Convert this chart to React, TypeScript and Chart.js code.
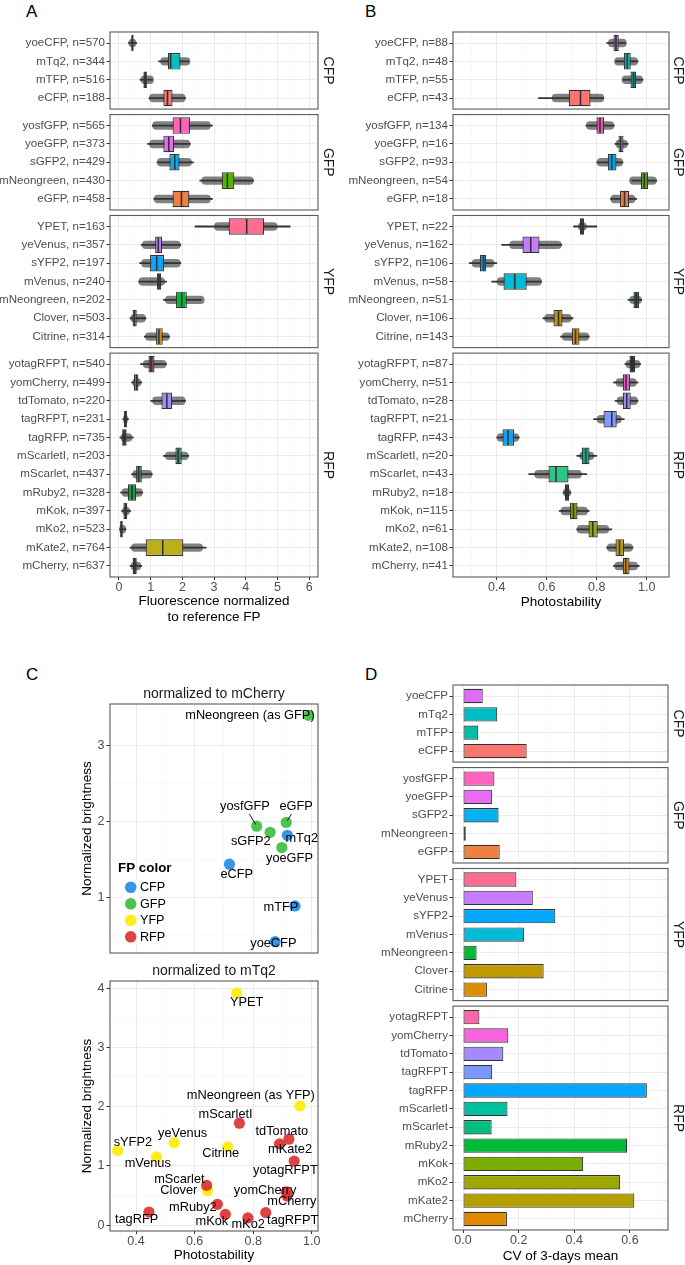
import React, { useEffect, useRef } from 'react';
import { Chart, registerables } from 'chart.js';

Chart.register(...registerables);

const FONT = '"Liberation Sans", Arial, Helvetica, sans-serif';
Chart.defaults.font.family = FONT;

// ---------------- shared facet structure ----------------
const FACETS = ['CFP', 'GFP', 'YFP', 'RFP'];
const FACET_SIZES = [4, 5, 7, 12];

// ---------------- Panel A: fluorescence normalized to reference FP ----------------
const aLabels = [
  'yoeCFP, n=570', 'mTq2, n=344', 'mTFP, n=516', 'eCFP, n=188',
  'yosfGFP, n=565', 'yoeGFP, n=373', 'sGFP2, n=429', 'mNeongreen, n=430', 'eGFP, n=458',
  'YPET, n=163', 'yeVenus, n=357', 'sYFP2, n=197', 'mVenus, n=240', 'mNeongreen, n=202', 'Clover, n=503', 'Citrine, n=314',
  'yotagRFPT, n=540', 'yomCherry, n=499', 'tdTomato, n=220', 'tagRFPT, n=231', 'tagRFP, n=735', 'mScarletI, n=203',
  'mScarlet, n=437', 'mRuby2, n=328', 'mKok, n=397', 'mKo2, n=523', 'mKate2, n=764', 'mCherry, n=637',
];
const aQ1 = [0.39, 1.54, 0.77, 1.40, 1.69, 1.40, 1.59, 3.24, 1.69, 3.46, 1.14, 0.98, 1.20, 1.80, 0.43, 1.17,
  0.93, 0.47, 1.34, 0.16, 0.10, 1.78, 0.54, 0.28, 0.14, 0.04, 0.84, 0.43];
const aMed = [0.42, 1.63, 0.83, 1.53, 1.94, 1.57, 1.76, 3.42, 1.97, 4.03, 1.24, 1.19, 1.26, 1.98, 0.49, 1.26,
  1.01, 0.55, 1.51, 0.20, 0.17, 1.87, 0.62, 0.41, 0.20, 0.07, 1.38, 0.49];
const aQ3 = [0.46, 1.94, 0.88, 1.69, 2.24, 1.74, 1.91, 3.64, 2.22, 4.58, 1.36, 1.42, 1.33, 2.14, 0.56, 1.38,
  1.12, 0.61, 1.68, 0.25, 0.24, 1.98, 0.72, 0.54, 0.26, 0.12, 2.03, 0.56];
const aWhiskLo = [0.30, 1.25, 0.66, 0.95, 1.05, 0.90, 1.20, 2.55, 1.10, 2.40, 0.70, 0.65, 0.62, 1.40, 0.35, 0.80,
  0.68, 0.40, 1.00, 0.12, 0.03, 1.40, 0.40, 0.05, 0.08, 0.00, 0.35, 0.35];
const aWhiskHi = [0.56, 2.20, 1.05, 2.10, 2.95, 2.25, 2.35, 4.25, 2.95, 5.40, 1.95, 1.95, 1.50, 2.60, 0.85, 1.60,
  1.50, 0.72, 2.10, 0.30, 0.45, 2.20, 1.05, 0.75, 0.37, 0.22, 2.75, 0.72];
const aCloudLo = [0.30, 1.30, 0.68, 0.95, 1.05, 0.95, 1.20, 2.60, 1.10, 3.00, 0.72, 0.70, 0.62, 1.45, 0.36, 0.82,
  0.75, 0.42, 1.05, 0.13, 0.05, 1.45, 0.42, 0.08, 0.10, 0.01, 0.38, 0.37];
const aCloudHi = [0.55, 2.25, 1.10, 2.10, 2.90, 2.25, 2.30, 4.25, 2.90, 5.00, 1.95, 1.95, 1.45, 2.70, 0.85, 1.60,
  1.50, 0.70, 2.10, 0.28, 0.42, 2.20, 1.05, 0.75, 0.35, 0.22, 2.65, 0.70];
const aColors = ['#1C1C1C', '#00BFC4', '#1C1C1C', '#F8766D', '#FF62BC', '#E76BF3', '#00B0F6', '#53B400', '#EE8043',
  '#FF6C91', '#C77CFF', '#00A9FF', '#1D6D78', '#00BA38', '#C09A00', '#DB8E00',
  '#8E3D63', '#F962DD', '#A58AFF', '#1C1C1C', '#1C1C1C', '#16A581', '#16955F', '#10A040', '#7CAE00', '#1C1C1C', '#BBAF1E', '#1C1C1C'];

// ---------------- Panel B: photostability ----------------
const bLabels = [
  'yoeCFP, n=88', 'mTq2, n=48', 'mTFP, n=55', 'eCFP, n=43',
  'yosfGFP, n=134', 'yoeGFP, n=16', 'sGFP2, n=93', 'mNeongreen, n=54', 'eGFP, n=18',
  'YPET, n=22', 'yeVenus, n=162', 'sYFP2, n=106', 'mVenus, n=58', 'mNeongreen, n=51', 'Clover, n=106', 'Citrine, n=143',
  'yotagRFPT, n=87', 'yomCherry, n=51', 'tdTomato, n=28', 'tagRFPT, n=21', 'tagRFP, n=43', 'mScarletI, n=20',
  'mScarlet, n=43', 'mRuby2, n=18', 'mKok, n=115', 'mKo2, n=61', 'mKate2, n=108', 'mCherry, n=41',
];
const bQ1 = [0.867, 0.908, 0.935, 0.688, 0.799, 0.887, 0.844, 0.977, 0.893, 0.733, 0.503, 0.333, 0.427, 0.947, 0.627, 0.700,
  0.931, 0.904, 0.904, 0.827, 0.423, 0.740, 0.607, 0.673, 0.693, 0.767, 0.875, 0.904];
const bMed = [0.877, 0.922, 0.947, 0.735, 0.813, 0.896, 0.860, 0.990, 0.911, 0.741, 0.536, 0.347, 0.472, 0.957, 0.647, 0.715,
  0.941, 0.917, 0.920, 0.860, 0.445, 0.756, 0.637, 0.681, 0.707, 0.784, 0.891, 0.916];
const bQ3 = [0.888, 0.936, 0.957, 0.775, 0.829, 0.907, 0.879, 1.005, 0.929, 0.749, 0.571, 0.357, 0.520, 0.969, 0.663, 0.731,
  0.953, 0.933, 0.936, 0.880, 0.469, 0.771, 0.687, 0.689, 0.723, 0.804, 0.909, 0.931];
const bWhiskLo = [0.840, 0.875, 0.905, 0.567, 0.757, 0.873, 0.800, 0.940, 0.855, 0.707, 0.420, 0.290, 0.380, 0.925, 0.585, 0.655,
  0.913, 0.867, 0.873, 0.787, 0.400, 0.720, 0.528, 0.665, 0.650, 0.720, 0.840, 0.867];
const bWhiskHi = [0.915, 0.965, 0.985, 0.827, 0.870, 0.925, 0.905, 1.040, 0.960, 0.800, 0.660, 0.400, 0.580, 0.980, 0.705, 0.770,
  0.975, 0.965, 0.965, 0.910, 0.490, 0.800, 0.760, 0.697, 0.770, 0.860, 0.945, 0.970];
const bCloudLo = [0.845, 0.870, 0.900, 0.620, 0.757, 0.875, 0.800, 0.930, 0.855, 0.725, 0.450, 0.300, 0.400, 0.930, 0.590, 0.660,
  0.915, 0.875, 0.880, 0.800, 0.400, 0.730, 0.550, 0.665, 0.655, 0.720, 0.840, 0.870];
const bCloudHi = [0.920, 0.965, 0.985, 0.830, 0.870, 0.925, 0.905, 1.040, 0.955, 0.760, 0.660, 0.390, 0.580, 0.980, 0.700, 0.770,
  0.975, 0.960, 0.965, 0.900, 0.490, 0.790, 0.740, 0.697, 0.765, 0.850, 0.945, 0.965];
const bColors = ['#B163E6', '#00B6BC', '#00A79A', '#F8766D', '#F452B6', '#E76BF3', '#00A8E8', '#4BA800', '#EE8043',
  '#8B3348', '#C77CFF', '#0A90D8', '#00BCD8', '#1C5A33', '#BE9800', '#D48A00',
  '#1C1C1C', '#F257D6', '#A088F8', '#7E9BFF', '#00A9FF', '#00B395', '#2FC48A', '#2A4F35', '#78A800', '#9AA800', '#B7A000', '#DE8C00'];

// ---------------- Panel D: CV of 3-days mean ----------------
const dLabels = ['yoeCFP', 'mTq2', 'mTFP', 'eCFP', 'yosfGFP', 'yoeGFP', 'sGFP2', 'mNeongreen', 'eGFP',
  'YPET', 'yeVenus', 'sYFP2', 'mVenus', 'mNeongreen', 'Clover', 'Citrine',
  'yotagRFPT', 'yomCherry', 'tdTomato', 'tagRFPT', 'tagRFP', 'mScarletI', 'mScarlet', 'mRuby2', 'mKok', 'mKo2', 'mKate2', 'mCherry'];
const dCV = [0.071, 0.123, 0.055, 0.229, 0.113, 0.104, 0.128, 0.010, 0.132,
  0.192, 0.251, 0.332, 0.220, 0.049, 0.290, 0.086,
  0.059, 0.163, 0.145, 0.105, 0.661, 0.160, 0.103, 0.590, 0.432, 0.565, 0.616, 0.158];
const dColors = ['#DC6FF6', '#00BCC4', '#00BFA7', '#F8766D', '#FF62BC', '#E96BF2', '#00B2EF', '#53B400', '#EE8043',
  '#FF6C91', '#C77CFF', '#00A9FF', '#00BCD8', '#00BA38', '#C09A00', '#DB8E00',
  '#FF65AC', '#F962DD', '#A58AFF', '#7997FF', '#00A9FF', '#00C19F', '#00BF7D', '#00BA38', '#7CAE00', '#9CA700', '#B3A000', '#E18A00'];

// ---------------- Panel C: brightness vs photostability ----------------
const GROUPS = ['CFP', 'GFP', 'YFP', 'RFP'];
const GROUP_COLORS = ['rgba(34,136,229,0.9)', 'rgba(57,190,62,0.9)', 'rgba(255,235,0,0.9)', 'rgba(220,45,45,0.9)'];

const cTopNames = ['mNeongreen (as GFP)', 'yosfGFP', 'sGFP2', 'eGFP', 'mTq2', 'yoeGFP', 'eCFP', 'mTFP', 'yoeCFP'];
const cTopGroup = ['GFP', 'GFP', 'GFP', 'GFP', 'CFP', 'GFP', 'CFP', 'CFP', 'CFP'];
const cTopPhoto = [0.989, 0.812, 0.858, 0.913, 0.917, 0.898, 0.719, 0.943, 0.875];
const cTopBright = [3.40, 1.94, 1.86, 1.99, 1.82, 1.66, 1.44, 0.89, 0.42];
// label anchors (ggrepel placement) and leader segments
const cTopLabelX = [0.789, 0.772, 0.792, 0.947, 0.966, 0.924, 0.744, 0.895, 0.869];
const cTopLabelY = [3.40, 2.20, 1.74, 2.20, 1.78, 1.52, 1.30, 0.87, 0.40];
const cTopSegment = [0, 1, 0, 1, 0, 0, 0, 0, 0];

const cBotNames = ['YPET', 'mNeongreen (as YFP)', 'mScarletI', 'tdTomato', 'mKate2', 'yotagRFPT', 'sYFP2', 'yeVenus',
  'Citrine', 'mVenus', 'mScarlet', 'Clover', 'yomCherry', 'mCherry', 'mRuby2', 'mKok', 'mKo2', 'tagRFPT', 'tagRFP'];
const cBotGroup = ['YFP', 'YFP', 'RFP', 'RFP', 'RFP', 'RFP', 'YFP', 'YFP', 'YFP', 'YFP', 'RFP', 'YFP', 'RFP', 'RFP',
  'RFP', 'RFP', 'RFP', 'RFP', 'RFP'];
const cBotPhoto = [0.744, 0.960, 0.753, 0.922, 0.890, 0.940, 0.337, 0.530, 0.713, 0.470, 0.641, 0.644, 0.913, 0.916,
  0.678, 0.705, 0.782, 0.843, 0.444];
const cBotBright = [3.92, 2.01, 1.72, 1.45, 1.37, 1.08, 1.26, 1.39, 1.32, 1.15, 0.67, 0.58, 0.56, 0.49, 0.35, 0.18,
  0.12, 0.21, 0.22];
const cBotLabelX = [0.778, 0.792, 0.706, 0.898, 0.926, 0.910, 0.389, 0.559, 0.689, 0.440, 0.548, 0.546, 0.841, 0.932,
  0.594, 0.659, 0.783, 0.935, 0.402];
const cBotLabelY = [3.75, 2.18, 1.865, 1.584, 1.28, 0.927, 1.40, 1.545, 1.21, 1.04, 0.77, 0.58, 0.58, 0.39, 0.30,
  0.056, 0.01, 0.07, 0.096];
const cBotSegment = cBotNames.map(() => 0);

// ---------------- axis specs ----------------
type XSpec = { min: number; max: number; major: number[]; minor: number[]; fmt: (v: number) => string; title: string | string[] };

const xSpecA: XSpec = { min: -0.284, max: 6.28, major: [0, 1, 2, 3, 4, 5, 6], minor: [0.5, 1.5, 2.5, 3.5, 4.5, 5.5],
  fmt: (v) => String(v), title: ['Fluorescence normalized', 'to reference FP'] };
const xSpecB: XSpec = { min: 0.225, max: 1.089, major: [0.4, 0.6, 0.8, 1.0], minor: [0.3, 0.5, 0.7, 0.9],
  fmt: (v) => v.toFixed(1), title: 'Photostability' };
const xSpecC: XSpec = { min: 0.311, max: 1.0215, major: [0.4, 0.6, 0.8, 1.0], minor: [0.5, 0.7, 0.9],
  fmt: (v) => v.toFixed(1), title: 'Photostability' };
const xSpecD: XSpec = { min: -0.036, max: 0.737, major: [0, 0.2, 0.4, 0.6], minor: [0.1, 0.3, 0.5, 0.7],
  fmt: (v) => v.toFixed(1), title: 'CV of 3-days mean' };

// ---------------- helpers ----------------
const U = 18.35; // pixels per category row
const GAP = 5.5; // gap between facets

const near = (arr: number[], v: number) => arr.some((a) => Math.abs(a - v) < 1e-9);

function xAxis(spec: XSpec, show: boolean, h: number) {
  const maj = (c: any) => !!(c && c.tick && near(spec.major, c.tick.value));
  return {
    type: 'linear', position: 'bottom', min: spec.min, max: spec.max, offset: false,
    afterBuildTicks: (s: any) => {
      s.ticks = [...spec.major, ...spec.minor].sort((a, b) => a - b).map((v) => ({ value: v }));
    },
    afterFit: (s: any) => { s.height = show ? h : 0; s.paddingLeft = 0; s.paddingRight = 0; },
    border: { display: false },
    grid: {
      offset: false,
      color: (c: any) => (maj(c) ? '#EBEBEB' : '#F5F5F5'),
      lineWidth: (c: any) => (maj(c) ? 1 : 0.6),
      drawTicks: show,
      tickLength: 3,
      tickColor: (c: any) => (maj(c) ? '#333333' : 'rgba(0,0,0,0)'),
      tickWidth: 1,
    },
    ticks: {
      display: show, autoSkip: false, maxRotation: 0, minRotation: 0, padding: 0,
      color: '#4D4D4D', font: { size: 12.5 },
      callback: (v: number) => (near(spec.major, v) ? spec.fmt(v) : ''),
    },
    title: { display: show, text: spec.title, color: '#000000', font: { size: 13.5, lineHeight: 1.13 }, padding: 0 },
  };
}

function rowAxis(labels: string[], w: number) {
  return {
    type: 'linear', position: 'left', min: 0.4, max: labels.length + 0.6, reverse: true, offset: false,
    afterBuildTicks: (s: any) => { s.ticks = labels.map((_, i) => ({ value: i + 1 })); },
    afterFit: (s: any) => { s.width = w; s.paddingTop = 0; s.paddingBottom = 0; },
    border: { display: false },
    grid: { offset: false, color: '#EBEBEB', lineWidth: 1, drawTicks: true, tickLength: 3.5, tickColor: '#333333', tickWidth: 1 },
    ticks: {
      autoSkip: false, padding: 1.5, color: '#4D4D4D', font: { size: 11.6 },
      callback: (v: number) => labels[Math.round(v) - 1] || '',
    },
  };
}

function valueYAxis(min: number, max: number, major: number[], minor: number[], w: number) {
  const maj = (c: any) => !!(c && c.tick && near(major, c.tick.value));
  return {
    type: 'linear', position: 'left', min, max, offset: false,
    afterBuildTicks: (s: any) => {
      s.ticks = [...major, ...minor].sort((a, b) => a - b).map((v) => ({ value: v }));
    },
    afterFit: (s: any) => { s.width = w; s.paddingTop = 0; s.paddingBottom = 0; },
    border: { display: false },
    grid: {
      color: (c: any) => (maj(c) ? '#EBEBEB' : '#F5F5F5'),
      lineWidth: (c: any) => (maj(c) ? 1 : 0.6),
      drawTicks: true, tickLength: 3.5,
      tickColor: (c: any) => (maj(c) ? '#333333' : 'rgba(0,0,0,0)'),
      tickWidth: 1,
    },
    ticks: {
      autoSkip: false, padding: 2, color: '#4D4D4D', font: { size: 12.5 },
      callback: (v: number) => (near(major, v) ? String(v) : ''),
    },
    title: { display: true, text: 'Normalized brightness', color: '#000000', font: { size: 13.5, lineHeight: 1.13 }, padding: 0 },
  };
}

function framePlugin(strip: string | null, off: number) {
  return {
    id: 'frame',
    afterDatasetsDraw(chart: any) {
      const { ctx, chartArea: a } = chart;
      ctx.save();
      ctx.strokeStyle = '#5A5A5A';
      ctx.lineWidth = 1.1;
      ctx.strokeRect(a.left, a.top, a.right - a.left, a.bottom - a.top);
      if (strip) {
        ctx.translate(a.right + off, (a.top + a.bottom) / 2);
        ctx.rotate(Math.PI / 2);
        ctx.fillStyle = '#1A1A1A';
        ctx.font = `14px ${FONT}`;
        ctx.textAlign = 'center';
        ctx.textBaseline = 'middle';
        ctx.fillText(strip, 0, 0);
      }
      ctx.restore();
    },
  };
}

type Geom = { k: number; start: number; n: number; canvasTop: number; canvasH: number; padTop: number; padBottom: number; last: boolean };

function facetGeoms(startY: number, xAxisH: number): Geom[] {
  const out: Geom[] = [];
  let y = startY;
  let start = 0;
  FACET_SIZES.forEach((n, k) => {
    const top = y;
    const bottom = top + (n + 0.2) * U;
    const last = k === FACET_SIZES.length - 1;
    const canvasTop = Math.floor(top) - 3;
    const canvasH = Math.ceil(bottom + (last ? xAxisH + 1 : 3) - canvasTop);
    out.push({ k, start, n, canvasTop, canvasH, padTop: top - canvasTop, padBottom: canvasH - (bottom - canvasTop) - (last ? xAxisH : 0), last });
    y = bottom + GAP;
    start += n;
  });
  return out;
}

type PanelSpec = { cLeft: number; cRight: number; aLeft: number; aRight: number; startY: number; xAxisH: number; stripOff: number; xSpec: XSpec };

function facetOptions(g: Geom, p: PanelSpec, labels: string[]) {
  return {
    responsive: false, animation: false, events: [],
    layout: { autoPadding: false, padding: { left: 0, right: p.cRight - p.aRight, top: g.padTop, bottom: g.padBottom } },
    plugins: { legend: { display: false }, tooltip: { enabled: false }, title: { display: false } },
    scales: { x: xAxis(p.xSpec, g.last, p.xAxisH), y: rowAxis(labels, p.aLeft - p.cLeft) },
  };
}

type BoxSeries = { labels: string[]; q1: number[]; med: number[]; q3: number[]; wlo: number[]; whi: number[]; clo: number[]; chi: number[]; colors: string[] };

function boxConfig(g: Geom, p: PanelSpec, s: BoxSeries) {
  const idx: number[] = [];
  for (let i = 0; i < g.n; i++) idx.push(i);
  const pick = (arr: any[]) => idx.map((i) => arr[g.start + i]);
  const labels = pick(s.labels);
  const q1 = pick(s.q1), med = pick(s.med), q3 = pick(s.q3);
  const wlo = pick(s.wlo), whi = pick(s.whi), clo = pick(s.clo), chi = pick(s.chi);
  const colors = pick(s.colors);
  return {
    type: 'scatter',
    data: {
      datasets: [
        {
          type: 'bar', indexAxis: 'y', order: 4, grouped: false, categoryPercentage: 1, barPercentage: 0.46,
          borderRadius: 4, borderSkipped: false, borderWidth: 0, backgroundColor: 'rgba(25,25,25,0.55)',
          data: idx.map((i) => ({ y: i + 1, x: [clo[i], chi[i]] })),
        },
        {
          type: 'bar', indexAxis: 'y', order: 3, grouped: false, barThickness: 1.1, borderWidth: 0,
          backgroundColor: '#333333',
          data: idx.map((i) => ({ y: i + 1, x: [wlo[i], whi[i]] })),
        },
        {
          type: 'bar', indexAxis: 'y', order: 2, grouped: false, categoryPercentage: 1, barPercentage: 0.9,
          backgroundColor: colors, borderColor: '#333333', borderWidth: 1.2, borderSkipped: false,
          data: idx.map((i) => ({ y: i + 1, x: [q1[i], q3[i]] })),
        },
        {
          type: 'scatter', order: 1, pointStyle: 'line', pointRotation: 90, pointRadius: U * 0.45 - 0.8,
          pointBorderColor: '#333333', pointBorderWidth: 1.6, pointBackgroundColor: '#333333',
          data: idx.map((i) => ({ x: med[i], y: i + 1 })),
        },
      ],
    },
    options: facetOptions(g, p, labels),
    plugins: [framePlugin(FACETS[g.k], p.stripOff)],
  };
}

function barConfig(g: Geom, p: PanelSpec) {
  const idx: number[] = [];
  for (let i = 0; i < g.n; i++) idx.push(i);
  const pick = (arr: any[]) => idx.map((i) => arr[g.start + i]);
  const labels = pick(dLabels);
  const cv = pick(dCV);
  const colors = pick(dColors);
  return {
    type: 'scatter',
    data: {
      datasets: [
        {
          type: 'bar', indexAxis: 'y', grouped: false, categoryPercentage: 1, barPercentage: 0.78,
          backgroundColor: colors, borderColor: '#333333', borderWidth: 1.1, borderSkipped: false,
          data: idx.map((i) => ({ y: i + 1, x: cv[i] })),
        },
      ],
    },
    options: facetOptions(g, p, labels),
    plugins: [framePlugin(FACETS[g.k], p.stripOff)],
  };
}

type ScatterSpec = {
  names: string[]; groups: string[]; xs: number[]; ys: number[]; lx: number[]; ly: number[]; seg: number[];
  yMin: number; yMax: number; yMajor: number[]; yMinor: number[]; showX: boolean; xAxisH: number;
  title: string; legend: boolean; padBottom: number;
};

const GROUP_ORDER = [2, 3, 1, 0]; // draw GFP, CFP, YFP, RFP (last on top)

function scatterConfig(o: ScatterSpec) {
  const datasets = GROUPS.map((g, gi) => ({
    type: 'scatter', label: g, order: GROUP_ORDER[gi],
    data: o.names.map((_, i) => i).filter((i) => o.groups[i] === g).map((i) => ({ x: o.xs[i], y: o.ys[i] })),
    pointRadius: 5.6, pointBackgroundColor: GROUP_COLORS[gi], pointBorderWidth: 0,
  }));
  const labelPlugin = {
    id: 'repelLabels',
    afterDatasetsDraw(chart: any) {
      const { ctx } = chart;
      const sx = chart.scales.x, sy = chart.scales.y;
      ctx.save();
      ctx.font = `12.8px ${FONT}`;
      ctx.fillStyle = '#000000';
      ctx.strokeStyle = '#000000';
      ctx.lineWidth = 0.9;
      ctx.textAlign = 'center';
      ctx.textBaseline = 'middle';
      o.names.forEach((n, i) => {
        const tx = sx.getPixelForValue(o.lx[i]);
        const ty = sy.getPixelForValue(o.ly[i]);
        if (o.seg[i]) {
          const px = sx.getPixelForValue(o.xs[i]);
          const py = sy.getPixelForValue(o.ys[i]);
          const dx = px - tx, dy = py - ty;
          const hw = ctx.measureText(n).width / 2 + 1, hh = 7.5;
          const t = Math.min(dx !== 0 ? hw / Math.abs(dx) : 1e9, dy !== 0 ? hh / Math.abs(dy) : 1e9);
          const len = Math.hypot(dx, dy);
          ctx.beginPath();
          ctx.moveTo(tx + dx * t, ty + dy * t);
          ctx.lineTo(px - (dx / len) * 2, py - (dy / len) * 2);
          ctx.stroke();
        }
        ctx.fillText(n, tx, ty);
      });
      ctx.restore();
    },
  };
  const legendPlugin = {
    id: 'fpLegend',
    afterDatasetsDraw(chart: any) {
      if (!o.legend) return;
      const { ctx, chartArea: a } = chart;
      ctx.save();
      ctx.textAlign = 'left';
      ctx.textBaseline = 'middle';
      ctx.font = `bold 13.4px ${FONT}`;
      ctx.fillStyle = '#000000';
      ctx.fillText('FP color', a.left + 8, a.top + 164);
      GROUPS.forEach((g, gi) => {
        const cy = a.top + 183.3 + gi * 16.5;
        ctx.fillStyle = '#FFFFFF';
        ctx.fillRect(a.left + 12.5, cy - 8.2, 16.5, 16.4);
        ctx.beginPath();
        ctx.arc(a.left + 20.7, cy, 5.8, 0, Math.PI * 2);
        ctx.fillStyle = GROUP_COLORS[gi];
        ctx.fill();
        ctx.fillStyle = '#000000';
        ctx.font = `12.6px ${FONT}`;
        ctx.fillText(g, a.left + 30, cy + 0.5);
      });
      ctx.restore();
    },
  };
  return {
    type: 'scatter',
    data: { datasets },
    options: {
      responsive: false, animation: false, events: [],
      layout: { autoPadding: false, padding: { left: 9.4, right: 27, top: 0, bottom: o.padBottom } },
      plugins: {
        legend: { display: false }, tooltip: { enabled: false },
        title: {
          display: true, text: o.title, color: '#1A1A1A', fullSize: false,
          font: { size: 14, weight: 'normal', lineHeight: 1.2 }, padding: { top: 5.6, bottom: 1.6 },
        },
      },
      scales: {
        x: xAxis(xSpecC, o.showX, o.xAxisH),
        y: valueYAxis(o.yMin, o.yMax, o.yMajor, o.yMinor, 30.6),
      },
    },
    plugins: [framePlugin(null, 0), labelPlugin, legendPlugin],
  };
}

// ---------------- React components ----------------
function ChartCanvas({ x, y, w, h, make }: { x: number; y: number; w: number; h: number; make: () => any }) {
  const ref = useRef<HTMLCanvasElement>(null);
  useEffect(() => {
    const chart = new Chart(ref.current as HTMLCanvasElement, make());
    return () => chart.destroy();
  }, []);
  return (
    <canvas
      ref={ref}
      width={w}
      height={h}
      style={{ position: 'absolute', left: x, top: y, width: w, height: h }}
    />
  );
}

function FacetPanel({ p, kind, series }: { p: PanelSpec; kind: 'box' | 'bar'; series?: BoxSeries }) {
  const geoms = facetGeoms(p.startY, p.xAxisH);
  return (
    <>
      {geoms.map((g) => (
        <ChartCanvas
          key={g.k}
          x={p.cLeft}
          y={g.canvasTop}
          w={p.cRight - p.cLeft}
          h={g.canvasH}
          make={() => (kind === 'box' ? boxConfig(g, p, series as BoxSeries) : barConfig(g, p))}
        />
      ))}
    </>
  );
}

function Letter({ x, y, t }: { x: number; y: number; t: string }) {
  return (
    <div style={{ position: 'absolute', left: x, top: y, fontSize: 17, lineHeight: '17px', fontFamily: FONT, color: '#000' }}>
      {t}
    </div>
  );
}

const panelA: PanelSpec = { cLeft: 0, cRight: 345, aLeft: 110, aRight: 318, startY: 32, xAxisH: 47.6, stripOff: 10, xSpec: xSpecA };
const panelB: PanelSpec = { cLeft: 340, cRight: 685, aLeft: 453, aRight: 669, startY: 32, xAxisH: 32.6, stripOff: 9, xSpec: xSpecB };
const panelD: PanelSpec = { cLeft: 340, cRight: 685, aLeft: 453, aRight: 668, startY: 685, xAxisH: 34.3, stripOff: 10, xSpec: xSpecD };

const seriesA: BoxSeries = { labels: aLabels, q1: aQ1, med: aMed, q3: aQ3, wlo: aWhiskLo, whi: aWhiskHi, clo: aCloudLo, chi: aCloudHi, colors: aColors };
const seriesB: BoxSeries = { labels: bLabels, q1: bQ1, med: bMed, q3: bQ3, wlo: bWhiskLo, whi: bWhiskHi, clo: bCloudLo, chi: bCloudHi, colors: bColors };

export default function App() {
  return (
    <div style={{ position: 'absolute', left: 0, top: 0, width: 685, height: 1265, background: '#ffffff', overflow: 'hidden', fontFamily: FONT }}>
      <Letter x={26} y={3} t="A" />
      <Letter x={365} y={3} t="B" />
      <Letter x={26} y={666} t="C" />
      <Letter x={365} y={666} t="D" />
      <FacetPanel p={panelA} kind="box" series={seriesA} />
      <FacetPanel p={panelB} kind="box" series={seriesB} />
      <FacetPanel p={panelD} kind="bar" />
      <ChartCanvas
        x={70}
        y={680}
        w={275}
        h={275}
        make={() =>
          scatterConfig({
            names: cTopNames, groups: cTopGroup, xs: cTopPhoto, ys: cTopBright, lx: cTopLabelX, ly: cTopLabelY, seg: cTopSegment,
            yMin: 0.27, yMax: 3.55, yMajor: [1, 2, 3], yMinor: [0.5, 1.5, 2.5, 3.5], showX: false, xAxisH: 0,
            title: 'normalized to mCherry', legend: true, padBottom: 2,
          })
        }
      />
      <ChartCanvas
        x={70}
        y={957}
        w={275}
        h={307}
        make={() =>
          scatterConfig({
            names: cBotNames, groups: cBotGroup, xs: cBotPhoto, ys: cBotBright, lx: cBotLabelX, ly: cBotLabelY, seg: cBotSegment,
            yMin: -0.1, yMax: 4.12, yMajor: [0, 1, 2, 3, 4], yMinor: [0.5, 1.5, 2.5, 3.5], showX: true, xAxisH: 32.1,
            title: 'normalized to mTq2', legend: false, padBottom: 0.9,
          })
        }
      />
    </div>
  );
}
